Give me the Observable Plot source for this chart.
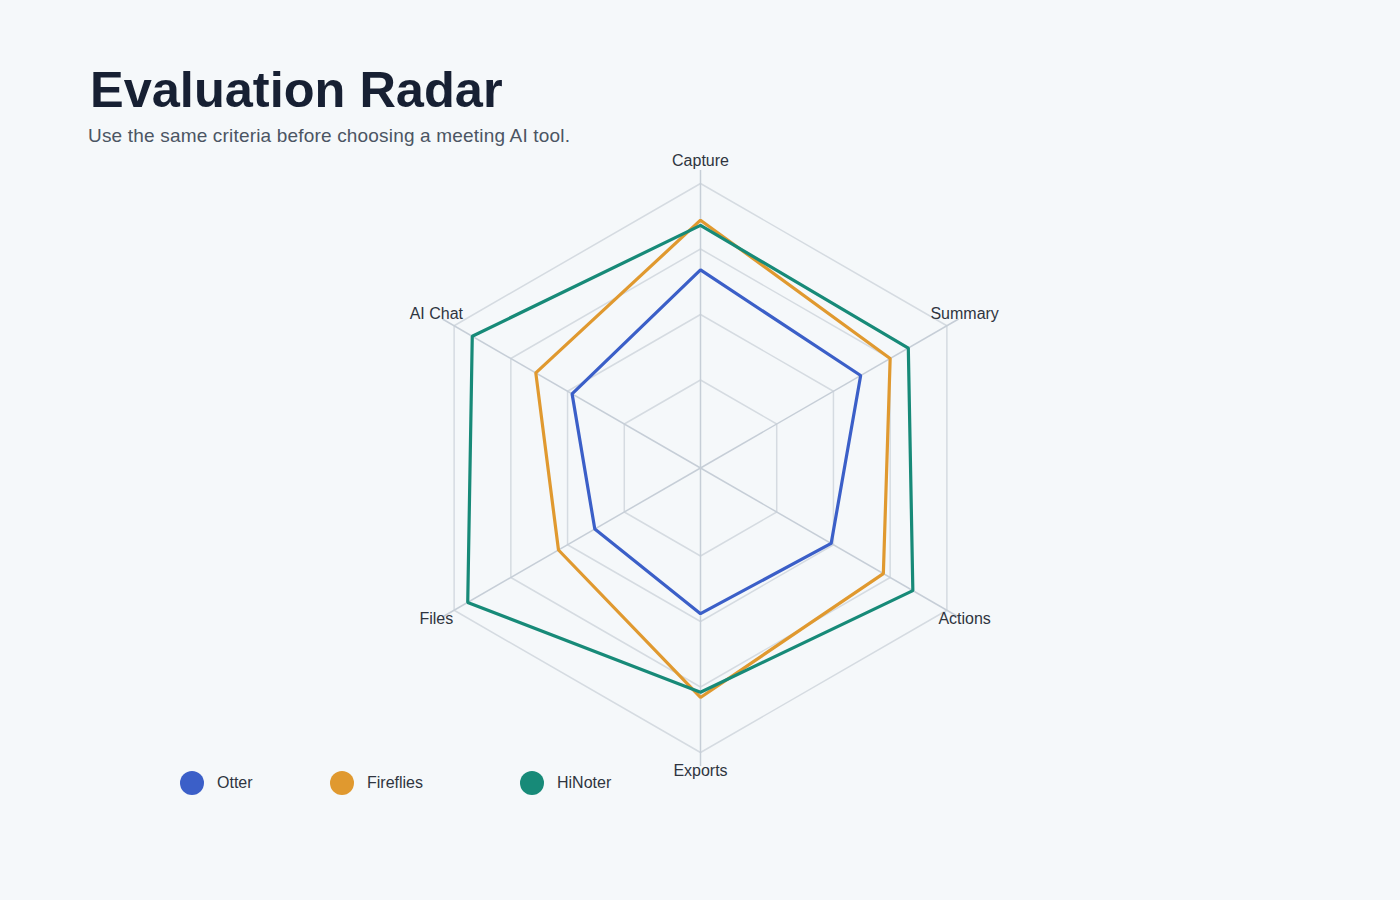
<!DOCTYPE html>
<html>
<head>
<meta charset="utf-8">
<script src="https://cdn.jsdelivr.net/npm/d3@7"></script>
<script src="https://cdn.jsdelivr.net/npm/@observablehq/plot@0.6"></script>
<style>
  html, body { margin: 0; padding: 0; }
  body { width: 1400px; height: 900px; background: #f5f8fa; position: relative; overflow: hidden;
         font-family: "Liberation Sans", Arial, Helvetica, sans-serif; }
  #title { position: absolute; left: 90px; top: 64px; margin: 0; font-size: 50.5px; line-height: 51px;
           font-weight: 700; color: #172033; white-space: nowrap; }
  #subtitle { position: absolute; left: 88px; top: 126px; margin: 0; font-size: 19px; line-height: 19px;
              letter-spacing: 0.18px; color: #4b5563; white-space: nowrap; }
  #chart { position: absolute; left: 0; top: 150px; }
  .legend-item { position: absolute; top: 771px; height: 24px; display: flex; align-items: center;
                 font-size: 16px; color: #2f3540; white-space: nowrap; }
  .legend-swatch { width: 24px; height: 24px; border-radius: 50%; margin-right: 13px; flex: none; }
</style>
</head>
<body>
<div id="title">Evaluation Radar</div>
<div id="subtitle">Use the same criteria before choosing a meeting AI tool.</div>
<div id="chart"></div>
<div id="legend"></div>
<script>
// ---- data ----
const criteria = ["Capture", "Summary", "Actions", "Exports", "Files", "AI Chat"];
const tools = ["Otter", "Fireflies", "HiNoter"];
const otter = [67, 62, 49, 47, 38, 48];
const fireflies = [86, 75, 72, 79, 54, 64];
const hinoter = [84, 83, 85, 77, 94, 92];
const ringLevels = [25, 50, 75, 100];
const toolColors = ["#3b5fc8", "#e0992f", "#178a78"];

// ---- layout ----
const W = 1400, H = 660;
const CX = 700, CY = 317.5;          // centre inside the svg
const R0 = 22.5, R = 284.5;          // radial range
const SPOKE_R = 298, LABEL_R = 305;
const legendLefts = [180, 330, 520];

const rad = v => R0 + (R - R0) * v / 100;
const ang = i => i * 2 * Math.PI / criteria.length;
const px = (i, r) => r * Math.sin(ang(i));
const py = (i, r) => r * Math.cos(ang(i));

const seriesValues = [otter, fireflies, hinoter];
const seriesData = tools.flatMap((t, k) =>
  criteria.map((c, i) => ({tool: t, criterion: c, i, value: seriesValues[k][i]})));
const ringData = ringLevels.flatMap(level =>
  criteria.map((c, i) => ({level, i})));
const axisData = criteria.map((c, i) => ({criterion: c, i}));

const chart = Plot.plot({
  width: W, height: H,
  margin: 0,
  style: {background: "transparent", fontFamily: "'Liberation Sans', Arial, sans-serif", overflow: "visible"},
  x: {domain: [-CX, W - CX], axis: null},
  y: {domain: [-(H - CY), CY], axis: null},
  color: {domain: tools, range: toolColors},
  marks: [
    Plot.line(ringData, {
      x: d => px(d.i, rad(d.level)), y: d => py(d.i, rad(d.level)), z: "level",
      curve: "linear-closed", stroke: "#d5dbe1", strokeWidth: 1.5
    }),
    Plot.link(axisData, {
      x1: () => 0, y1: () => 0,
      x2: d => px(d.i, SPOKE_R), y2: d => py(d.i, SPOKE_R),
      stroke: "#c6ced7", strokeWidth: 1.5
    }),
    Plot.line(seriesData, {
      x: d => px(d.i, rad(d.value)), y: d => py(d.i, rad(d.value)), z: "tool",
      stroke: "tool", curve: "linear-closed", strokeWidth: 3.2, strokeLinejoin: "miter"
    }),
    Plot.text(axisData, {
      x: d => px(d.i, LABEL_R), y: d => py(d.i, LABEL_R), text: "criterion",
      fontSize: 16, fill: "#2f3540", textAnchor: "middle", lineAnchor: "middle", dy: -2
    })
  ]
});
document.getElementById("chart").appendChild(chart);

// ---- legend ----
const legend = document.getElementById("legend");
tools.forEach((t, k) => {
  const item = document.createElement("div");
  item.className = "legend-item";
  item.style.left = legendLefts[k] + "px";
  const sw = document.createElement("span");
  sw.className = "legend-swatch";
  sw.style.background = toolColors[k];
  const label = document.createElement("span");
  label.textContent = t;
  item.appendChild(sw);
  item.appendChild(label);
  legend.appendChild(item);
});
</script>
</body>
</html>
